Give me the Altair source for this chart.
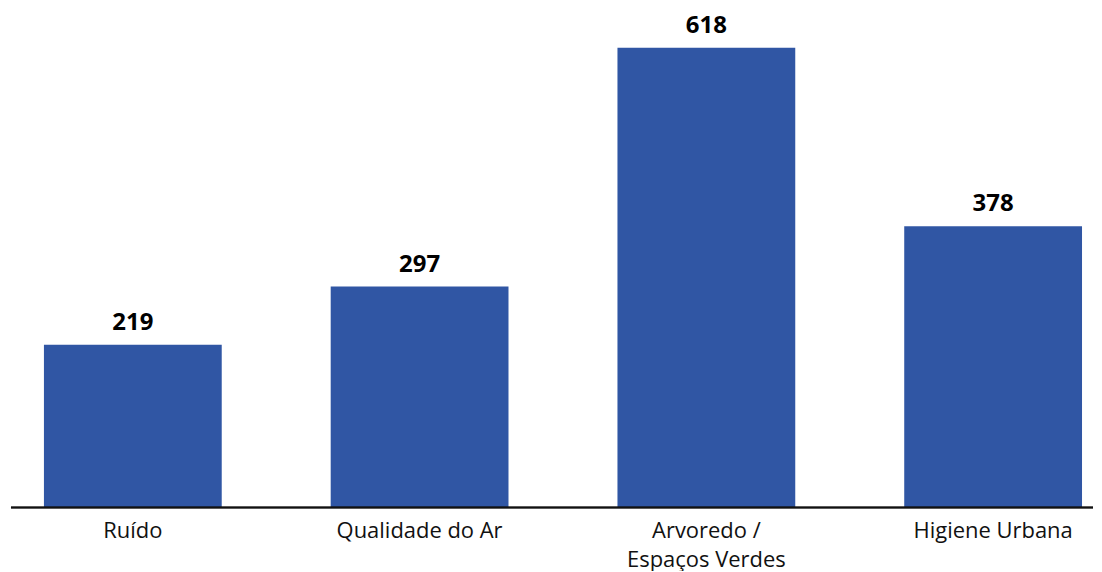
import altair as alt
import pandas as pd

categories = ["Ruído", "Qualidade do Ar", "Arvoredo /\nEspaços Verdes", "Higiene Urbana"]
values = [219, 297, 618, 378]

df = pd.DataFrame({"cat": categories, "val": values})

W = 1084
H = 492

xscale = alt.Scale(range=[33, 1073], paddingInner=0.38, paddingOuter=0)
yscale = alt.Scale(domain=[0, 660])

base = alt.Chart(df).encode(
    x=alt.X("cat:N", sort=categories, scale=xscale,
            axis=alt.Axis(title=None, domain=False, ticks=False,
                          labelAngle=0, labelFont="Open Sans", labelFontSize=22,
                          labelColor="#111111", labelPadding=13,
                          labelLineHeight=29, labelBaseline="top",
                          labelExpr="split(datum.label, '\\n')")),
    y=alt.Y("val:Q", scale=yscale, axis=None),
)

bars = base.mark_bar(color="#3056A4")
text = base.mark_text(dy=-10, baseline="bottom", font="Open Sans",
                      fontSize=24, fontWeight="bold", color="#000000").encode(text="val:Q")

rule = alt.Chart(df).mark_rule(color="#111111", strokeWidth=1.5).encode(
    x=alt.value(0), x2=alt.value(W), y=alt.value(H)
)

chart = alt.layer(bars, text, rule).properties(
    width=W, height=H,
    padding={"left": 2, "top": 5, "right": 0, "bottom": 0},
).configure_view(stroke=None)

chart.save("out.html", embed_options={"renderer": "svg", "actions": False})
